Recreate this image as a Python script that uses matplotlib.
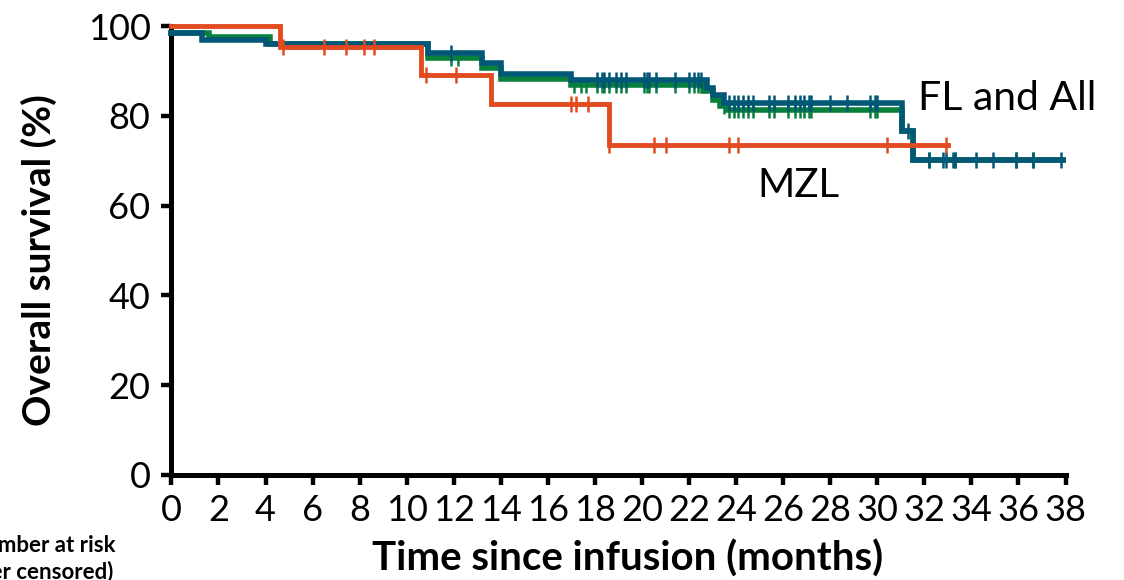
import numpy as np
import matplotlib
matplotlib.use("Agg")
import matplotlib.pyplot as plt

plt.rcParams['font.family'] = ['Lato', 'DejaVu Sans']

# MZL curve (step changes), end of follow-up and censor times
mzl_times = [0, 4.6, 10.6, 13.6, 18.6]
mzl_surv = [100, 95.4, 89.1, 82.6, 73.4]
mzl_end = 33.0
mzl_cens = [4.75, 6.5, 7.4, 8.2, 8.6, 10.8, 12.1, 17.0, 17.2, 17.7, 18.6,
            20.5, 21.0, 23.7, 24.1, 30.4, 32.9]

# FL curve
fl_times = [0, 1.6, 4.2, 10.9, 13.2, 14.0, 17.0, 22.6, 23.0, 23.3, 23.6, 31.05, 31.5]
fl_surv = [98.4, 97.5, 96.0, 92.9, 90.6, 88.2, 86.8, 85.5, 83.5, 82.2, 81.2, 76.6, 70.1]
fl_end = 37.9
fl_cens = [11.9, 12.2, 17.1, 17.4, 17.6, 18.1, 18.3, 18.4, 18.6, 18.9, 19.1, 19.3,
           20.1, 20.2, 20.3, 20.6, 21.4, 22.0, 22.2, 22.4, 23.5, 23.7, 23.9, 24.1,
           24.3, 24.5, 24.7, 25.4, 25.6, 26.2, 26.5, 26.7, 26.9, 27.1, 27.2, 29.7,
           29.9, 30.0, 32.2, 33.3, 35.9, 36.6]

# All patients curve
all_times = [0, 1.3, 4.0, 10.9, 13.2, 14.0, 17.0, 22.75, 23.0, 23.5, 31.05, 31.5]
all_surv = [98.4, 97.0, 96.1, 93.9, 91.7, 89.4, 87.9, 86.3, 84.6, 82.9, 76.6, 70.1]
all_end = 37.9
all_cens = [11.9, 18.1, 18.3, 18.4, 18.6, 18.9, 19.1, 19.3, 20.1, 20.2, 20.3, 20.6,
            21.4, 22.0, 22.2, 22.4, 22.5, 23.7, 23.9, 24.1, 24.3, 24.5, 24.7, 25.4,
            25.6, 26.2, 26.5, 26.7, 26.9, 27.1, 27.2, 28.0, 28.7, 29.7, 29.9, 30.0,
            31.3, 32.2, 32.8, 32.9, 33.2, 33.3, 34.2, 34.9, 35.9, 36.6, 37.8]

x_ticks = list(range(0, 39, 2))
y_ticks = [0, 20, 40, 60, 80, 100]

ORANGE = '#E24A1F'
BLUE = '#005876'
GREEN = '#08803C'


def km(ax, times, surv, end, cens, color, lw, z):
    t = np.append(times, end)
    s = np.append(surv, surv[-1])
    ax.step(t, s, where='post', color=color, lw=lw, zorder=z, clip_on=False,
            solid_joinstyle='miter')
    idx = np.searchsorted(times, cens, side='right') - 1
    cy = np.array(surv)[idx]
    ax.plot(cens, cy, linestyle='none', marker='|', markersize=11, mew=1.8,
            color=color, zorder=z, clip_on=False)


fig = plt.figure(figsize=(11.24, 5.8), dpi=100)
ax = fig.add_axes([0.1525, 0.1815, 0.7955, 0.7735])

km(ax, fl_times, fl_surv, fl_end, fl_cens, GREEN, 4.0, 3)
km(ax, all_times, all_surv, all_end, all_cens, BLUE, 4.0, 4)
km(ax, mzl_times, mzl_surv, mzl_end, mzl_cens, ORANGE, 3.5, 5)

ax.set_xlim(0, 38)
ax.set_ylim(0, 100)
ax.set_xticks(x_ticks)
ax.set_yticks(y_ticks)
ax.spines['top'].set_visible(False)
ax.spines['right'].set_visible(False)
for sp in ['left', 'bottom']:
    ax.spines[sp].set_linewidth(3.6)
    ax.spines[sp].set_capstyle('projecting')
ax.tick_params(axis='both', direction='out', length=7, width=3.2,
               labelsize=26, color='black')
ax.tick_params(axis='x', pad=7)
ax.tick_params(axis='y', pad=8)

ax.set_xlabel('Time since infusion (months)', fontsize=29, fontweight='bold')
ax.set_ylabel('Overall survival (%)', fontsize=28, fontweight='bold')
ax.xaxis.set_label_coords(0.51, -0.145)
ax.yaxis.set_label_coords(-0.128, 0.478)

ax.text(31.75, 81.2, 'FL and All', fontsize=29.5, ha='left', va='baseline')
ax.text(24.9, 61.8, 'MZL', fontsize=29, ha='left', va='baseline')

# left-hand risk table caption, cut at the figure edge as in the source
fig.text(115 / 1124, 1 - 552 / 580, 'Number at risk', fontsize=16,
         fontweight='bold', ha='right', va='baseline')
fig.text(113 / 1124, 1 - 578 / 580, '(number censored)', fontsize=16,
         fontweight='bold', ha='right', va='baseline')

fig.savefig('out.png', dpi=100)
